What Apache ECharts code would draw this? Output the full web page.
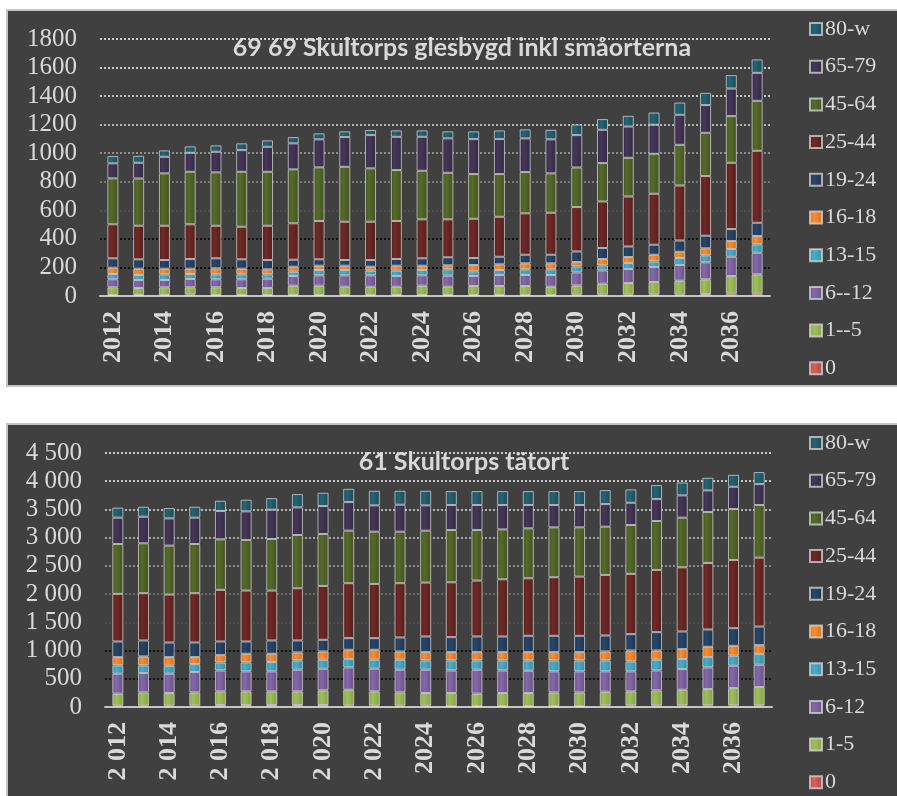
<!DOCTYPE html>
<html>
<head>
<meta charset="utf-8">
<script src="https://cdn.jsdelivr.net/npm/echarts@6/dist/echarts.min.js"></script>
<style>
  body { margin: 0; background: #ffffff; width: 897px; height: 796px; overflow: hidden; }
  .panel { position: absolute; left: 6px; width: 893px; background: #404040; border: 2px solid #c4c4c4; }
</style>
</head>
<body>
<div id="chart-glesbygd" class="panel" style="top:9px; height:374px;"></div>
<div id="chart-tatort" class="panel" style="top:423px; height:380px;"></div>
<script>
// Åldersgrupper (serier, nedifrån och upp)
var grupperGles = ['0', '1--5', '6--12', '13-15', '16-18', '19-24', '25-44', '45-64', '65-79', '80-w'];
var grupperTat = ['0', '1-5', '6-12', '13-15', '16-18', '19-24', '25-44', '45-64', '65-79', '80-w'];

// År
var arGles = ['2012','2013','2014','2015','2016','2017','2018','2019','2020','2021','2022','2023','2024',
              '2025','2026','2027','2028','2029','2030','2031','2032','2033','2034','2035','2036','2037'];
var arTat = ['2 012','2 013','2 014','2 015','2 016','2 017','2 018','2 019','2 020','2 021','2 022','2023','2024',
             '2025','2026','2027','2028','2029','2030','2031','2032','2033','2034','2035','2036','2037'];

// 69 69 Skultorps glesbygd inkl småorterna
var g_0     = [7,7,7,10,7,7,7,7,7,7,7,7,7,7,7,7,7,7,9,9,9,9,9,14,16,16];
var g_1_5   = [54,49,54,51,54,49,49,65,65,58,58,58,65,58,63,63,63,58,65,77,82,89,98,103,124,136];
var g_6_12  = [56,56,51,58,56,61,65,68,73,80,80,75,73,77,70,77,77,82,91,93,98,105,110,119,135,151];
var g_13_15 = [37,35,40,35,35,35,31,30,37,37,32,37,37,45,33,35,40,40,42,35,42,39,49,49,54,59];
var g_16_18 = [44,44,39,37,42,39,35,35,30,30,28,35,30,28,44,40,42,42,31,45,42,47,44,49,56,58];
var g_19_24 = [66,66,61,68,70,66,65,49,45,40,47,47,52,56,49,53,60,60,74,77,74,70,79,88,84,93];
var g_25_44 = [238,235,240,243,228,228,240,255,268,268,268,266,273,266,275,280,290,294,311,326,350,357,385,418,464,504];
var g_45_64 = [322,331,367,368,374,385,378,378,376,385,374,357,340,326,313,299,289,276,277,269,271,280,285,303,327,350];
var g_65_79 = [105,110,116,133,144,152,175,182,196,208,233,233,238,241,245,245,236,238,227,233,219,203,210,194,193,196];
var g_80_w  = [51,49,45,45,45,47,45,44,42,40,36,45,45,49,54,61,63,67,74,75,75,86,86,86,94,94];

// 61 Skultorps tätort
var t_0     = [24,24,24,24,35,35,35,35,35,24,24,24,24,12,12,12,12,12,12,29,29,29,29,29,29,29];
var t_1_5   = [212,235,224,235,242,242,242,242,260,282,253,235,224,236,224,236,236,247,247,242,248,266,277,289,307,325];
var t_6_12  = [353,342,341,360,371,354,354,383,383,395,401,401,412,400,424,400,394,372,372,360,354,353,366,383,395,395];
var t_13_15 = [148,136,142,141,142,159,165,165,159,148,159,177,165,177,165,177,183,194,194,194,176,189,177,183,177,188];
var t_16_18 = [147,159,153,124,129,153,147,142,147,165,177,147,148,148,148,148,148,148,148,159,195,165,177,183,176,159];
var t_19_24 = [277,283,259,259,242,218,236,212,207,206,206,248,277,265,277,277,288,288,288,283,289,324,312,306,313,330];
var t_25_44 = [843,837,849,873,914,902,884,925,954,973,961,961,954,972,990,1013,1020,1038,1049,1073,1067,1102,1137,1179,1208,1220];
var t_45_64 = [884,884,867,872,896,896,913,943,920,931,925,913,920,926,896,884,884,884,873,855,866,867,879,902,902,932];
var t_65_79 = [466,471,483,466,501,507,519,489,495,507,466,478,448,442,442,431,413,395,395,400,395,389,395,383,395,371];
var t_80_w  = [177,177,183,194,182,206,206,236,236,235,259,247,259,247,247,247,247,247,247,248,236,247,229,224,212,212];

// färger per åldersgrupp: [ljus, mörk]
var farger = [
  ['#d8625e', '#b4423f'],
  ['#a0bf5c', '#83a342'],
  ['#8669a9', '#6a508c'],
  ['#4cadc8', '#3290aa'],
  ['#f58f3a', '#dc6e10'],
  ['#294669', '#1c3452'],
  ['#6e2a27', '#571d1b'],
  ['#566b2b', '#42531e'],
  ['#46375a', '#342842'],
  ['#266476', '#194b58']
];

var textFarg = '#d9d9d9';

function fyllning(i) {
  return {
    type: 'linear', x: 0, y: 0, x2: 1, y2: 0,
    colorStops: [
      { offset: 0, color: farger[i][1] },
      { offset: 0.35, color: farger[i][0] },
      { offset: 1, color: farger[i][1] }
    ]
  };
}

function byggSerier(namn, data) {
  var serier = [];
  for (var i = 0; i < namn.length; i++) {
    serier.push({
      name: namn[i],
      type: 'bar',
      stack: 'Total',
      barWidth: 11,
      data: data[i],
      itemStyle: {
        color: fyllning(i),
        borderColor: 'rgba(225,225,225,0.7)',
        borderWidth: 1
      }
    });
  }
  return serier;
}

function byggOption(titel, titelX, kategorier, namn, data, ymax, steg, gridLeft, gridWidth, gridHeight, gridLinjer, formatter) {
  return {
    backgroundColor: '#404040',
    animation: false,
    title: {
      text: titel,
      left: titelX,
      top: 19,
      textAlign: 'center',
      textStyle: { color: textFarg, fontFamily: 'Lato', fontWeight: 'bold', fontSize: 25 }
    },
    legend: {
      orient: 'vertical',
      left: 801,
      top: 7,
      height: 366,
      padding: 0,
      itemWidth: 12,
      itemHeight: 12,
      itemGap: 15.7,
      icon: 'rect',
      data: namn.slice().reverse(),
      textStyle: { color: textFarg, fontFamily: 'Liberation Serif', fontSize: 22, lineHeight: 20, padding: [0, 0, 0, -2] }
    },
    grid: { left: gridLeft, top: 28, width: gridWidth, height: gridHeight },
    xAxis: {
      type: 'category',
      data: kategorier,
      axisLine: { lineStyle: { color: '#c4c4c4', width: 2 } },
      axisTick: { show: false },
      axisLabel: {
        interval: 1,
        rotate: 90,
        margin: 15,
        color: textFarg,
        fontFamily: 'Liberation Serif',
        fontWeight: 'bold',
        fontSize: 26
      }
    },
    yAxis: {
      type: 'value',
      min: 0,
      max: ymax,
      interval: steg,
      axisLine: { show: false },
      axisTick: { show: false },
      axisLabel: {
        margin: 23,
        color: textFarg,
        fontFamily: 'Liberation Serif',
        fontSize: 25,
        formatter: formatter
      },
      splitLine: { lineStyle: { type: [2, 2], width: 2, color: gridLinjer } }
    },
    series: byggSerier(namn, data)
  };
}

var chartGles = echarts.init(document.getElementById('chart-glesbygd'));
chartGles.setOption(byggOption(
  '69 69 Skultorps glesbygd inkl småorterna', 449, arGles, grupperGles,
  [g_0, g_1_5, g_6_12, g_13_15, g_16_18, g_19_24, g_25_44, g_45_64, g_65_79, g_80_w],
  1800, 200, 92, 670, 257,
  ['#404040', '#111111', '#111111', '#4c4c4c', '#7a7a7a', '#8e8e8e', '#b4b4b4', '#c4c4c4', '#c8c8c8', '#cccccc'],
  function (v) { return String(v); }
));

var chartTat = echarts.init(document.getElementById('chart-tatort'));
chartTat.setOption(byggOption(
  '61 Skultorps tätort', 451, arTat, grupperTat,
  [t_0, t_1_5, t_6_12, t_13_15, t_16_18, t_19_24, t_25_44, t_45_64, t_65_79, t_80_w],
  4500, 500, 97, 667, 254,
  ['#404040', '#111111', '#111111', '#4c4c4c', '#6a6a6a', '#8a8a8a', '#a4a4a4', '#b4b4b4', '#c4c4c4', '#cccccc'],
  function (v) { return v >= 1000 ? Math.floor(v / 1000) + ' ' + String(v % 1000).padStart(3, '0') : String(v); }
));
</script>
</body>
</html>
